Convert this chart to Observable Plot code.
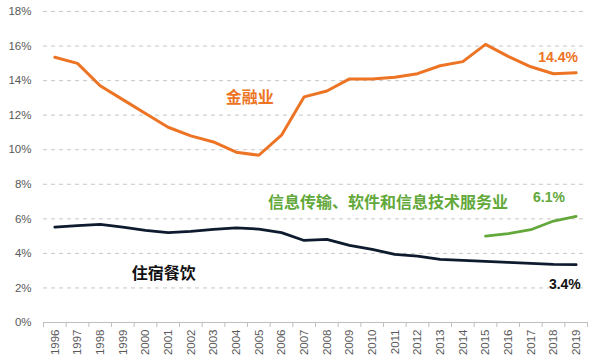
<!DOCTYPE html>
<html><head><meta charset="utf-8">
<script src="https://cdn.jsdelivr.net/npm/d3@7"></script>
<script src="https://cdn.jsdelivr.net/npm/@observablehq/plot@0.6"></script>
<style>body{margin:0;background:#fff;font-family:"Noto Sans CJK SC","Noto Sans",sans-serif;}</style>
</head><body><div id="chart"></div>
<script>
const years = d3.range(1996, 2020);
const finance = [15.35,15.0,13.7,12.9,12.1,11.3,10.8,10.45,9.86,9.68,10.84,13.06,13.4,14.1,14.1,14.2,14.4,14.86,15.1,16.1,15.4,14.8,14.4,14.45];
const hotel = [5.52,5.6,5.68,5.52,5.33,5.2,5.28,5.39,5.47,5.41,5.2,4.75,4.81,4.46,4.23,3.94,3.84,3.65,3.59,3.54,3.48,3.42,3.36,3.35];
const itYears = [2015,2016,2017,2018,2019];
const it = [5.0,5.14,5.37,5.87,6.14];
const yTicks = [0,2,4,6,8,10,12,14,16,18];
const names = ["金融业","信息传输、软件和信息技术服务业","住宿餐饮"];
const endLabels = ["14.4%","6.1%","3.4%"];
const colors = ["#EC7424","#62A83A","#0E1A2E"];

const finData = years.map((y,i)=>({year:y, v:finance[i]}));
const hotData = years.map((y,i)=>({year:y, v:hotel[i]}));
const itData = itYears.map((y,i)=>({year:y, v:it[i]}));
const bounds = years.concat([2020]).map(y=>y-0.5);
const font = '"Noto Sans CJK SC", sans-serif';
const latin = '"Liberation Sans", Arial, sans-serif';

const chart = Plot.plot({
  width: 600, height: 360,
  marginLeft: 43, marginRight: 13, marginTop: 11, marginBottom: 38,
  x: {type: "linear", domain: [1995.5, 2019.5], label: null},
  y: {domain: [0, 18], label: null},
  style: {fontFamily: latin, fontSize: "11px", color: "#595959", background: "#fff"},
  marks: [
    Plot.gridY(yTicks.filter(d=>d>0), {stroke: "#c8c8c8", strokeOpacity: 1, strokeDasharray: "4,4", strokeWidth: 1}),
    Plot.ruleY([0], {stroke: "#bfbfbf"}),
    Plot.axisY(yTicks, {tickSize: 0, tickPadding: 12, tickFormat: d => d + "%", fill: "#595959", fontSize: 11.5, label: null}),
    Plot.axisX(bounds, {tickSize: 5, tickFormat: () => "", stroke: "#bfbfbf", tickPadding: 0, label: null}),
    Plot.axisX(years, {tickSize: 0, tickRotate: -90, tickPadding: 7, tickFormat: d => String(d), fill: "#595959", fontSize: 11.5, label: null}),
    Plot.line(finData, {x: "year", y: "v", stroke: colors[0], strokeWidth: 3}),
    Plot.line(hotData, {x: "year", y: "v", stroke: colors[2], strokeWidth: 2.75}),
    Plot.line(itData, {x: "year", y: "v", stroke: colors[1], strokeWidth: 2.75}),
    Plot.text([names[0]], {x: 2004.6, y: 13.0, text: d=>d, fill: colors[0], fontSize: 16, fontWeight: "bold", fontFamily: font}),
    Plot.text([names[1]], {x: 2010.7, y: 6.9, text: d=>d, fill: colors[1], fontSize: 16, fontWeight: "bold", fontFamily: font}),
    Plot.text([names[2]], {x: 2000.8, y: 2.84, text: d=>d, fill: "#111", fontSize: 16, fontWeight: "bold", fontFamily: font}),
    Plot.text([endLabels[0]], {x: 2018.2, y: 15.36, text: d=>d, fill: colors[0], fontSize: 14, fontWeight: "bold", fontFamily: latin}),
    Plot.text([endLabels[1]], {x: 2017.8, y: 7.25, text: d=>d, fill: colors[1], fontSize: 14, fontWeight: "bold", fontFamily: latin}),
    Plot.text([endLabels[2]], {x: 2018.5, y: 2.2, text: d=>d, fill: "#111", fontSize: 14, fontWeight: "bold", fontFamily: latin})
  ]
});
document.getElementById("chart").appendChild(chart);
</script></body></html>
